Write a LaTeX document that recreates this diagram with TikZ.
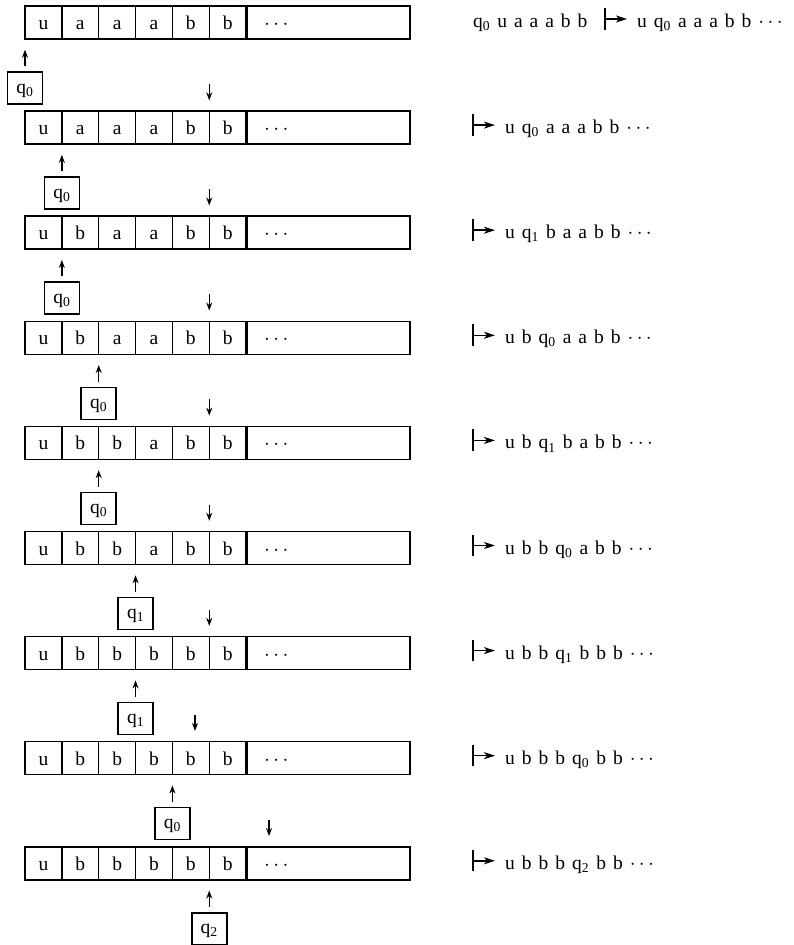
\documentclass[tikz,border=0pt]{standalone}
\usepackage{fontspec}
\setmainfont{Liberation Serif}
\usetikzlibrary{arrows.meta}
\newcommand{\qs}[1]{q\textsubscript{#1}}
\newcommand{\mydots}{$\cdots$}
\newcommand{\rtfont}{\fontsize{19.5}{22}\selectfont\spaceskip=7pt\relax}
\begin{document}
\begin{tikzpicture}[x=1pt,y=-1pt,
  cell/.style={draw, line width=1.5pt, minimum width=36.85pt, minimum height=33pt, inner sep=0pt, text height=14pt, text depth=0pt, font=\fontsize{19.5}{22}\selectfont},
  tail/.style={draw, line width=1.5pt, minimum width=162.9pt, minimum height=33pt, inner sep=0pt, anchor=west},
  head/.style={draw, line width=1.5pt, minimum width=35pt, minimum height=32pt, inner sep=0pt, text height=12pt, text depth=2pt, font=\fontsize{19.5}{22}\selectfont},
  arr/.style={line width=1.4pt, -{Stealth[length=8pt,width=6pt]}},
  rt/.style={inner sep=0pt, anchor=base west, font=\rtfont},
  yields/.style={line width=1.5pt},
  yarr/.style={line width=1.5pt, -{Stealth[length=11pt,width=7pt,inset=3pt]}}]
\useasboundingbox (0,0) rectangle (793,945);
% tapes, heads, up arrows
\foreach \rw/\cl/\hx/\hlab in {
  1/{u,a,a,a,b,b}/25/0,
  2/{u,a,a,a,b,b}/61.85/0,
  3/{u,b,a,a,b,b}/61.85/0,
  4/{u,b,a,a,b,b}/98.7/0,
  5/{u,b,b,a,b,b}/98.7/0,
  6/{u,b,b,a,b,b}/135.55/1,
  7/{u,b,b,b,b,b}/135.55/1,
  8/{u,b,b,b,b,b}/172.4/0,
  9/{u,b,b,b,b,b}/209.25/2}{
  \pgfmathsetmacro\ty{6+105.1*(\rw-1)}
  \foreach \sym [count=\j] in \cl {
    \node[cell] (c\rw-\j) at ({25+36.85*(\j-0.5)}, \ty+16.5) {\sym};
  }
  \node[tail] (e\rw) at (246.1, \ty+16.5) {};
  \node[rt] (dots\rw) at (264, \ty+23.5) {\mydots};
  \node[head] (h\rw) at (\hx, \ty+82) {\qs{\hlab}};
  \draw[arr, shorten <=5pt, shorten >=10pt] (h\rw.north) -- (h\rw.north |- c\rw-1.south);
}
% down arrows
\foreach \rw/\dx in {2/209.25,3/209.25,4/209.25,5/209.25,6/209.25,7/209.25,8/195,9/269}{
  \pgfmathsetmacro\ty{6+105.1*(\rw-1)}
  \coordinate (d\rw) at (\dx, \ty-27);
  \draw[arr, shorten >=10pt] (d\rw) -- (d\rw |- c\rw-1.north);
}
% right-hand texts
\node[rt] (s0) at (473, 27.5) {\qs{0} u a a a b b};
\coordinate (y1) at (605, 27.5);
\foreach \rw in {2,...,9}{
  \pgfmathsetmacro\ty{6+105.1*(\rw-1)}
  \coordinate (y\rw) at (473, \ty+22.5);
}
\foreach \rw/\txt in {
  1/{u \qs{0} a a a b b \mydots},
  2/{u \qs{0} a a a b b \mydots},
  3/{u \qs{1} b a a b b \mydots},
  4/{u b \qs{0} a a b b \mydots},
  5/{u b \qs{1} b a b b \mydots},
  6/{u b b \qs{0} a b b \mydots},
  7/{u b b \qs{1} b b b \mydots},
  8/{u b b b \qs{0} b b \mydots},
  9/{u b b b \qs{2} b b \mydots}}{
  \draw[yields] ([yshift=-2pt]y\rw) -- ([yshift=19.5pt]y\rw);
  \draw[yarr] ([yshift=8.5pt]y\rw) -- ([xshift=22pt,yshift=8.5pt]y\rw);
  \node[rt] (s\rw) at ([xshift=32pt]y\rw) {\txt};
}
\end{tikzpicture}
\end{document}
